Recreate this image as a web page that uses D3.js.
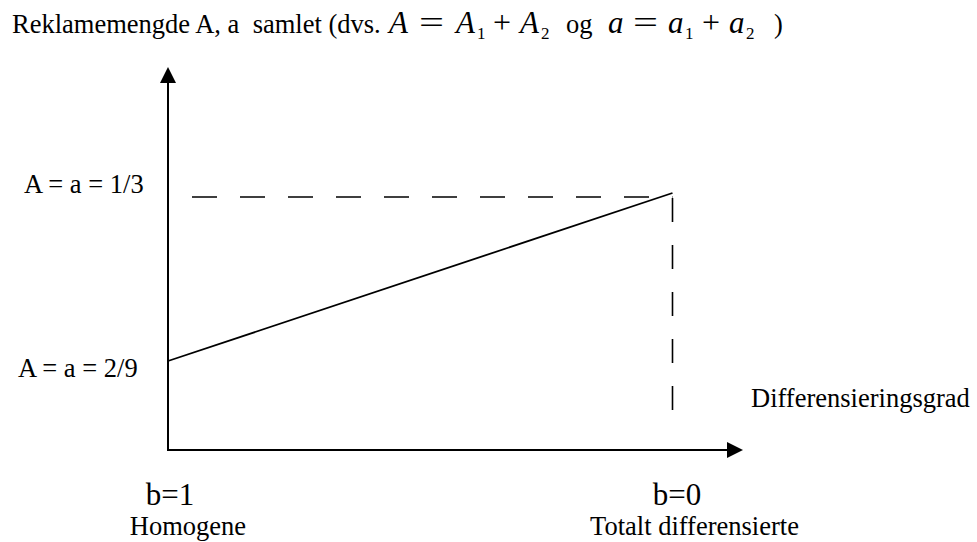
<!DOCTYPE html>
<html>
<head>
<meta charset="utf-8">
<script src="https://cdn.jsdelivr.net/npm/d3@7"></script>
<style>
  html, body { margin: 0; padding: 0; background: #fff; }
  svg { display: block; }
  text { font-family: "Liberation Serif", "Times New Roman", serif; fill: #000; }
</style>
</head>
<body>
<script>
// Advertising level (A = a) against degree of product differentiation b
const bValues = [1, 0];
const adLevels = [2 / 9, 1 / 3];
const levelLabels = ["A = a = 2/9", "A = a = 1/3"];
const bTickLabels = ["b=1", "b=0"];
const bSubLabels = ["Homogene", "Totalt differensierte"];
const xAxisTitle = "Differensieringsgrad";
const titleText = "Reklamemengde A, a  samlet (dvs.";

// Inline formula: A = A1 + A2  og  a = a1 + a2 )
const formulaGlyphs = ["A", "=", "A", "1", "+", "A", "2", "og", "a", "=", "a", "1", "+", "a", "2", ")"];
const formulaKinds  = ["var", "op", "var", "sub", "op", "var", "sub", "word", "var", "op", "var", "sub", "op", "var", "sub", "word"];

const W = 977, H = 542;
const svg = d3.select("body").append("svg")
  .attr("width", W).attr("height", H);

const x = d3.scaleLinear().domain([1, 0]).range([168, 672.5]);
const y = d3.scaleLinear().domain([2 / 9, 1 / 3]).range([361, 193]);

const axisX0 = x(1), axisY0 = 450;
const yTop = 67, xRight = 743;
const ink = "#000";

// Title line
svg.append("text")
  .attr("x", 12).attr("y", 33)
  .attr("font-size", 26.5)
  .style("white-space", "pre")
  .text(titleText);

// Formula typeset glyph by glyph
const formulaX = [389, 419, 456, 477, 493, 520, 541, 566, 608, 633, 668, 685, 702, 729, 746, 774];
const titleBase = 33;
formulaGlyphs.forEach((g, i) => {
  const k = formulaKinds[i];
  const t = svg.append("text")
    .attr("x", formulaX[i])
    .attr("y", k === "sub" ? titleBase + 6 : titleBase)
    .text(g);
  if (k === "var") t.attr("font-size", 31).attr("font-style", "italic");
  else if (k === "sub") t.attr("font-size", 17);
  else if (k === "op") {
    t.attr("font-size", 31)
      .attr("textLength", g === "=" ? 25 : 18)
      .attr("lengthAdjust", "spacingAndGlyphs");
  } else t.attr("font-size", 26.5);
});

// Axes with arrowheads
svg.append("line")
  .attr("x1", axisX0).attr("y1", axisY0)
  .attr("x2", axisX0).attr("y2", yTop + 14)
  .attr("stroke", ink).attr("stroke-width", 2);
svg.append("line")
  .attr("x1", axisX0 - 1).attr("y1", axisY0)
  .attr("x2", xRight - 14).attr("y2", axisY0)
  .attr("stroke", ink).attr("stroke-width", 2);
svg.append("path")
  .attr("d", `M${axisX0},${yTop} L${axisX0 - 8},${yTop + 16} L${axisX0 + 8},${yTop + 16} Z`)
  .attr("fill", ink);
svg.append("path")
  .attr("d", `M${xRight},${axisY0} L${xRight - 16},${axisY0 - 8} L${xRight - 16},${axisY0 + 8} Z`)
  .attr("fill", ink);

// Dashed guides to the right end point
const topLevel = adLevels[1];
svg.append("line")
  .attr("x1", 192).attr("y1", y(topLevel) + 4)
  .attr("x2", x(0)).attr("y2", y(topLevel) + 4)
  .attr("stroke", ink).attr("stroke-width", 1.6)
  .attr("stroke-dasharray", "25,23");
svg.append("line")
  .attr("x1", x(0)).attr("y1", y(topLevel) + 5)
  .attr("x2", x(0)).attr("y2", 413)
  .attr("stroke", ink).attr("stroke-width", 1.6)
  .attr("stroke-dasharray", "24,23");

// Advertising line
const pts = bValues.map((b, i) => [x(b), y(adLevels[i])]);
svg.append("path")
  .attr("d", d3.line()(pts))
  .attr("fill", "none").attr("stroke", ink).attr("stroke-width", 1.8);

// Level labels on the left
const labelX = [18, 24];
const labelDy = [16, 0];
levelLabels.forEach((t, i) => {
  svg.append("text")
    .attr("x", labelX[i]).attr("y", y(adLevels[i]) + labelDy[i])
    .attr("font-size", 26.5).text(t);
});

// x-axis title
svg.append("text")
  .attr("x", 751).attr("y", 407)
  .attr("font-size", 26.5).text(xAxisTitle);

// b tick labels and descriptions
const tickShift = [2, 4.5];
const subShift = [20, 22];
bValues.forEach((b, i) => {
  svg.append("text")
    .attr("x", x(b) + tickShift[i]).attr("y", 505)
    .attr("text-anchor", "middle")
    .attr("font-size", 31).text(bTickLabels[i]);
  svg.append("text")
    .attr("x", x(b) + subShift[i]).attr("y", 535)
    .attr("text-anchor", "middle")
    .attr("font-size", 26.5).text(bSubLabels[i]);
});
</script>
</body>
</html>
